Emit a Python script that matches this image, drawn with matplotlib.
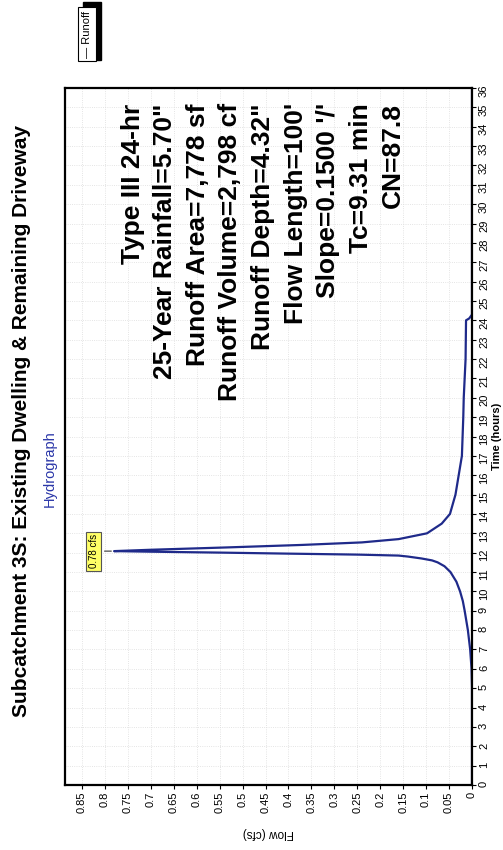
import matplotlib
matplotlib.use('Agg')
import matplotlib.pyplot as plt
from matplotlib.patches import Rectangle

plt.rcParams['font.family'] = ['Liberation Sans', 'DejaVu Sans']

time = [0, 5.0, 6.0, 7.0, 8.0, 9.0, 9.5, 10.0, 10.5, 11.0, 11.3, 11.5, 11.6,
        11.7, 11.8, 11.85, 11.9, 11.95, 12.0, 12.05, 12.08, 12.15, 12.27, 12.4,
        12.53, 12.7, 13.0, 13.5, 14.0, 15.0, 16.0, 17.0, 19.0, 20.0, 21.0,
        22.0, 24.0, 24.1, 24.3, 36]
flow = [0, 0.0, 0.001, 0.004, 0.009, 0.016, 0.02, 0.026, 0.034, 0.047, 0.06,
        0.075, 0.087, 0.11, 0.14, 0.16, 0.25, 0.40, 0.54, 0.70, 0.78, 0.70,
        0.535, 0.37, 0.24, 0.16, 0.098, 0.066, 0.048, 0.036, 0.029, 0.022,
        0.019, 0.018, 0.016, 0.014, 0.013, 0.006, 0.0, 0.0]

peak_time = 12.08
peak_flow = 0.78

flow_ticks = [0.85, 0.8, 0.75, 0.7, 0.65, 0.6, 0.55, 0.5, 0.45, 0.4, 0.35,
              0.3, 0.25, 0.2, 0.15, 0.1, 0.05, 0]
flow_labels = ['0.85', '0.8', '0.75', '0.7', '0.65', '0.6', '0.55', '0.5',
               '0.45', '0.4', '0.35', '0.3', '0.25', '0.2', '0.15', '0.1',
               '0.05', '0']
time_ticks = list(range(0, 37))

info_lines = ['Type III 24-hr', '25-Year Rainfall=5.70"', 'Runoff Area=7,778 sf',
              'Runoff Volume=2,798 cf', 'Runoff Depth=4.32"', "Flow Length=100'",
              "Slope=0.1500 '/'", 'Tc=9.31 min', 'CN=87.8']

title = 'Subcatchment 3S: Existing Dwelling & Remaining Driveway'

fig = plt.figure(figsize=(5.03, 8.5), dpi=100)
ax = fig.add_axes([65 / 503, 1 - 785 / 850, 407 / 503, 697 / 850])

ax.plot(flow, time, color='#1f2a8a', lw=1.6)
ax.set_xlim(0.887, 0)
ax.set_ylim(0, 36)

ax.set_xticks(flow_ticks)
ax.set_xticklabels(flow_labels, rotation=90, fontsize=8)
ax.yaxis.tick_right()
ax.yaxis.set_label_position('right')
ax.set_yticks(time_ticks)
ax.set_yticklabels([str(t) for t in time_ticks], rotation=90, fontsize=8)
ax.tick_params(length=3, width=0.8, pad=2)

ax.set_xlabel('Flow (cfs)', rotation=180, fontsize=8.5, labelpad=10)
ax.set_ylabel('Time (hours)', rotation=90, fontsize=8, weight='bold', labelpad=2)

ax.grid(True, color='#dcdcdc', linestyle=':', lw=0.6)
for s in ax.spines.values():
    s.set_linewidth(1.6)

# stats block, right-aligned in the chart's own frame
for i, line in enumerate(info_lines):
    ax.text((140 + 32.5 * i - 65) / 407, 0.978, line, transform=ax.transAxes,
            rotation=90, rotation_mode='anchor', ha='right', va='baseline',
            fontsize=19, weight='bold')

ax.annotate(f'{peak_flow:.2f} cfs', xy=(peak_flow, peak_time),
            xytext=(0.824, peak_time), rotation=90, ha='center', va='center',
            fontsize=7, bbox=dict(boxstyle='square,pad=0.25', fc='#ffff66',
                                  ec='#555555', lw=0.8),
            arrowprops=dict(arrowstyle='-', color='#333333', lw=0.8))

fig.text(22 / 503, 1 - 421 / 850, title, rotation=90, ha='center', va='center',
         fontsize=15, weight='bold')
fig.text(50 / 503, 1 - 469 / 850, 'Hydrograph', rotation=90, ha='center',
         va='center', fontsize=10.5, color='#2a36a8')

# legend box with shadow
fig.patches.append(Rectangle((83 / 503, 1 - 60 / 850), 18 / 503, 58 / 850,
                             transform=fig.transFigure, fc='black', ec='black'))
fig.text(87 / 503, 1 - 34 / 850, '— Runoff', rotation=90, ha='center',
         va='center', fontsize=8,
         bbox=dict(boxstyle='square,pad=0.35', fc='white', ec='black', lw=0.8))

fig.savefig('out.png', dpi=100)
